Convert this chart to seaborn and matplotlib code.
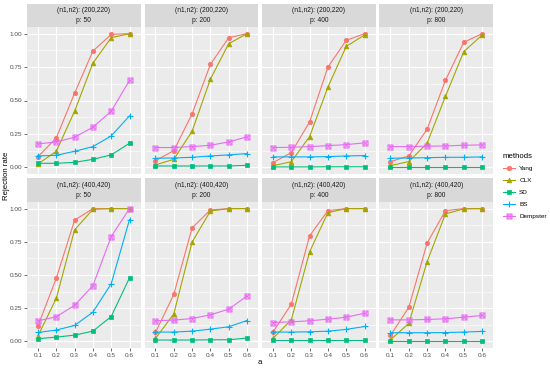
import numpy as np
import pandas as pd
import matplotlib
matplotlib.use("Agg")
import matplotlib.pyplot as plt
from matplotlib.lines import Line2D
import seaborn as sns

a_vals = [0.1, 0.2, 0.3, 0.4, 0.5, 0.6]
p_vals = [50, 200, 400, 800]
n_groups = ["(200,220)", "(400,420)"]
methods = ["Yang", "CLX", "SD", "BS", "Dempster"]

# rows: p = 50, 200, 400, 800
yang_200 = [[0.08, 0.22, 0.555, 0.87, 0.995, 1.0],
            [0.05, 0.125, 0.40, 0.77, 0.97, 1.0],
            [0.035, 0.11, 0.34, 0.75, 0.95, 1.0],
            [0.043, 0.085, 0.285, 0.65, 0.935, 1.0]]
clx_200 = [[0.025, 0.12, 0.42, 0.78, 0.97, 1.0],
           [0.018, 0.06, 0.27, 0.66, 0.925, 1.0],
           [0.012, 0.042, 0.23, 0.60, 0.905, 0.99],
           [0.013, 0.043, 0.18, 0.53, 0.865, 0.99]]
sd_200 = [[0.03, 0.03, 0.037, 0.06, 0.093, 0.18],
          [0.01, 0.01, 0.01, 0.01, 0.01, 0.015],
          [0.003, 0.003, 0.003, 0.004, 0.004, 0.004],
          [0.003, 0.003, 0.003, 0.003, 0.003, 0.003]]
bs_200 = [[0.085, 0.09, 0.12, 0.155, 0.235, 0.385],
          [0.068, 0.07, 0.075, 0.085, 0.093, 0.103],
          [0.078, 0.078, 0.078, 0.08, 0.085, 0.088],
          [0.068, 0.07, 0.072, 0.075, 0.075, 0.078]]
dempster_200 = [[0.175, 0.19, 0.225, 0.30, 0.42, 0.65],
                [0.148, 0.148, 0.155, 0.165, 0.19, 0.228],
                [0.148, 0.15, 0.155, 0.162, 0.17, 0.183],
                [0.155, 0.155, 0.158, 0.16, 0.165, 0.168]]

yang_400 = [[0.117, 0.476, 0.913, 1.0, 1.0, 1.0],
            [0.067, 0.354, 0.855, 0.99, 1.0, 1.0],
            [0.07, 0.28, 0.795, 0.985, 1.0, 1.0],
            [0.045, 0.257, 0.74, 0.985, 1.0, 1.0]]
clx_400 = [[0.042, 0.324, 0.84, 0.995, 1.0, 1.0],
           [0.022, 0.207, 0.748, 0.982, 1.0, 1.0],
           [0.022, 0.162, 0.675, 0.97, 1.0, 1.0],
           [0.012, 0.135, 0.60, 0.96, 0.998, 1.0]]
sd_400 = [[0.02, 0.032, 0.047, 0.077, 0.187, 0.479],
          [0.01, 0.01, 0.01, 0.012, 0.012, 0.025],
          [0.01, 0.01, 0.01, 0.01, 0.01, 0.01],
          [0.003, 0.003, 0.003, 0.003, 0.003, 0.003]]
bs_400 = [[0.067, 0.085, 0.12, 0.22, 0.434, 0.918],
          [0.07, 0.07, 0.077, 0.092, 0.11, 0.157],
          [0.07, 0.07, 0.072, 0.077, 0.09, 0.112],
          [0.065, 0.065, 0.065, 0.066, 0.07, 0.075]]
dempster_400 = [[0.155, 0.185, 0.272, 0.42, 0.79, 1.0],
                [0.155, 0.16, 0.172, 0.2, 0.242, 0.342],
                [0.142, 0.147, 0.155, 0.167, 0.182, 0.212],
                [0.162, 0.162, 0.165, 0.17, 0.182, 0.195]]

colors = ["#F8766D", "#A3A500", "#00BF7D", "#00B0F6", "#E76BF3"]
markers = ["o", "^", "s", "+", "$\u22A0$"]
msizes = [3.2, 3.4, 3.0, 4.5, 4.0]
mews = [0.5, 0.5, 0.5, 0.8, 0.25]

groups = {
    "(200,220)": [yang_200, clx_200, sd_200, bs_200, dempster_200],
    "(400,420)": [yang_400, clx_400, sd_400, bs_400, dempster_400],
}

rows = []
for g in n_groups:
    for mi, m in enumerate(methods):
        for pi, p in enumerate(p_vals):
            for ai, a in enumerate(a_vals):
                rows.append((g, p, m, a, groups[g][mi][pi][ai]))
df = pd.DataFrame(rows, columns=["n", "p", "method", "a", "rate"])

W, H = 550, 369
fig = plt.figure(figsize=(W / 100, H / 100), dpi=100)
plt.rcParams["font.family"] = ["Liberation Sans", "DejaVu Sans"]

panel_x = [27, 144.5, 262, 379.5]
panel_w = 113.5
row_specs = [(4, 27, 174), (178, 202, 348)]  # strip top, panel top, panel bottom

def fx(px):
    return px / W

def fy(py):
    return 1 - py / H

tick_fs = 4.6
strip_fs = 4.8
grey = "#4D4D4D"

for ri, g in enumerate(n_groups):
    st, pt, pb = row_specs[ri]
    for ci, p in enumerate(p_vals):
        x0 = panel_x[ci]
        ax = fig.add_axes([fx(x0), fy(pb), panel_w / W, (pb - pt) / H])
        ax.set_facecolor("#EBEBEB")
        for mi, m in enumerate(methods):
            sub = df[(df["n"] == g) & (df["p"] == p) & (df["method"] == m)]
            sns.lineplot(data=sub, x="a", y="rate", color=colors[mi],
                         marker=markers[mi], markersize=msizes[mi],
                         markeredgecolor=colors[mi], markerfacecolor=colors[mi],
                         markeredgewidth=mews[mi], linewidth=0.8,
                         legend=False, ax=ax)
        ax.set_xlim(0.04, 0.66)
        ax.set_ylim(-0.05, 1.05)
        ax.set_xticks(a_vals)
        ax.set_yticks([0, 0.25, 0.5, 0.75, 1.0])
        ax.set_yticks([0.125, 0.375, 0.625, 0.875], minor=True)
        ax.grid(True, which="major", color="white", linewidth=0.8)
        ax.grid(True, which="minor", axis="y", color="white", linewidth=0.4)
        ax.set_axisbelow(True)
        for s in ax.spines.values():
            s.set_visible(False)
        ax.set_xlabel("")
        ax.set_ylabel("")
        ax.tick_params(which="major", length=2, width=0.5, color="#333333",
                       labelsize=tick_fs, labelcolor=grey, pad=1.5)
        ax.tick_params(which="minor", length=0)
        if ri == 0:
            ax.tick_params(axis="x", labelbottom=False, length=0)
        else:
            ax.set_xticklabels([f"{a:.1f}" for a in a_vals])
        if ci == 0:
            ax.set_yticklabels(["0.00", "0.25", "0.50", "0.75", "1.00"])
        else:
            ax.tick_params(axis="y", labelleft=False, length=0)
        # strip
        sax = fig.add_axes([fx(x0), fy(pt), panel_w / W, (pt - st) / H])
        sax.set_facecolor("#D9D9D9")
        sax.set_xticks([])
        sax.set_yticks([])
        for s in sax.spines.values():
            s.set_visible(False)
        sax.text(0.5, 0.70, f"(n1,n2): {g}", ha="center", va="center",
                 fontsize=strip_fs, color="#1A1A1A", transform=sax.transAxes)
        sax.text(0.5, 0.27, f"p: {p}", ha="center", va="center",
                 fontsize=strip_fs, color="#1A1A1A", transform=sax.transAxes)

fig.text(fx(6), fy(176), "Rejection rate", rotation=90, ha="center", va="center",
         fontsize=5.6, color="black")
fig.text(fx(260), fy(362), "a", ha="center", va="center", fontsize=5.6, color="black")

handles = [Line2D([0], [0], color=c, marker=m, markersize=ms, linewidth=0.8,
                  markeredgecolor=c, markerfacecolor=c, markeredgewidth=mw)
           for c, m, ms, mw in zip(colors, markers, msizes, mews)]
leg = fig.legend(handles, methods, title="methods", loc="upper left",
                 bbox_to_anchor=(fx(500), fy(150)), frameon=False,
                 fontsize=4.6, title_fontsize=5.6, handlelength=2.0,
                 labelspacing=1.0, handletextpad=0.6, borderaxespad=0)
leg._legend_box.align = "left"

fig.savefig("out.png", dpi=100)
